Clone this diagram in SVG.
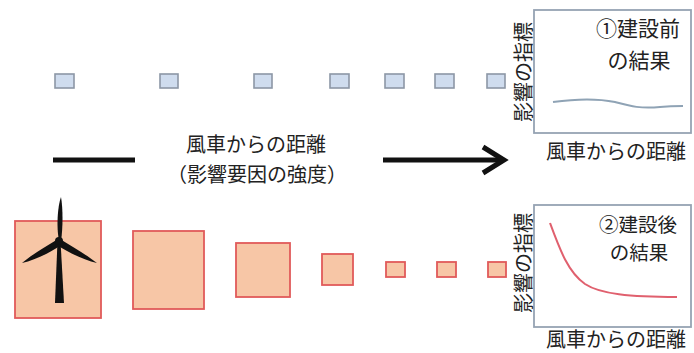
<svg xmlns="http://www.w3.org/2000/svg" width="694" height="353" viewBox="0 0 694 353">
<style>
text{font-family:"Noto Sans CJK JP","Noto Sans",sans-serif;fill:#222;}
.t19{font-size:19.5px;}
.t20{font-size:20px;}
.t21{font-size:21px;}
.bs{fill:#cfdcee;stroke:#8c97a6;stroke-width:1.6;}
.rs{fill:#f7c6a6;stroke:#e05a5a;stroke-width:1.8;}
.box{fill:#fff;stroke:#96a3b3;stroke-width:1.8;}
</style>
<rect width="694" height="353" fill="#fff"/>
<g id="top-squares">
<rect class="bs" x="55" y="74" width="19" height="14"/>
<rect class="bs" x="160" y="74" width="18" height="14"/>
<rect class="bs" x="254" y="74" width="18" height="14"/>
<rect class="bs" x="330" y="74" width="19" height="14"/>
<rect class="bs" x="385" y="74" width="19" height="14"/>
<rect class="bs" x="435" y="74" width="19" height="14"/>
<rect class="bs" x="487" y="74" width="18" height="14"/>
</g>
<g id="bottom-squares">
<rect class="rs" x="15" y="221" width="86" height="97"/>
<rect class="rs" x="133" y="231" width="71" height="78"/>
<rect class="rs" x="236" y="243" width="54" height="54"/>
<rect class="rs" x="322" y="254" width="31" height="31"/>
<rect class="rs" x="386" y="262" width="19" height="15"/>
<rect class="rs" x="437" y="262" width="19" height="15"/>
<rect class="rs" x="488" y="262" width="18" height="15"/>
</g>
<g id="windmill" fill="#111">
<polygon points="57.5,241 60.5,241 64,303 55,303"/>
<path d="M59,241 C56,225 58,205 61,197 C63,208 63,228 61,241 Z"/>
<path d="M58,239 C45,247 30,256 22,263 C35,260 50,253 61,245 Z"/>
<path d="M60,239 C73,247 88,256 97,263 C84,260 69,253 57,245 Z"/>
<circle cx="59" cy="241" r="4"/>
</g>
<g id="connectors">
<line x1="53" y1="160" x2="135" y2="160" stroke="#111" stroke-width="5"/>
<line x1="383" y1="160" x2="503" y2="160" stroke="#111" stroke-width="5"/>
<polyline points="483,147 504,160 483,173" fill="none" stroke="#111" stroke-width="5" stroke-linejoin="miter"/>
</g>
<g id="axis-label">
<text class="t20" x="256" y="152" text-anchor="middle">風車からの距離</text>
<text class="t20" x="257" y="182" text-anchor="middle">（影響要因の強度）</text>
</g>
<g id="graph-before">
<rect class="box" x="534" y="10" width="157" height="123"/>
<path d="M553,102 C575,99 595,98 615,102 C630,106 640,109 660,107 C670,106 677,106 683,106" fill="none" stroke="#8fa3b5" stroke-width="2"/>
<text class="t21" x="638" y="36" text-anchor="middle">①建設前</text>
<text class="t21" x="639" y="68" text-anchor="middle">の結果</text>
<text class="t20" transform="translate(522,72) rotate(-90)" text-anchor="middle" dominant-baseline="central">影響の指標</text>
<text class="t20" x="616" y="159" text-anchor="middle">風車からの距離</text>
</g>
<g id="graph-after">
<rect class="box" x="534" y="205" width="157" height="122"/>
<path d="M550,223 C560,250 568,272 585,284 C600,294 630,297 677,297" fill="none" stroke="#e0606e" stroke-width="2"/>
<text class="t19" x="638" y="232" text-anchor="middle">②建設後</text>
<text class="t19" x="639" y="260" text-anchor="middle">の結果</text>
<text class="t20" transform="translate(522,263) rotate(-90)" text-anchor="middle" dominant-baseline="central">影響の指標</text>
<text class="t20" x="616" y="347" text-anchor="middle">風車からの距離</text>
</g>
</svg>
